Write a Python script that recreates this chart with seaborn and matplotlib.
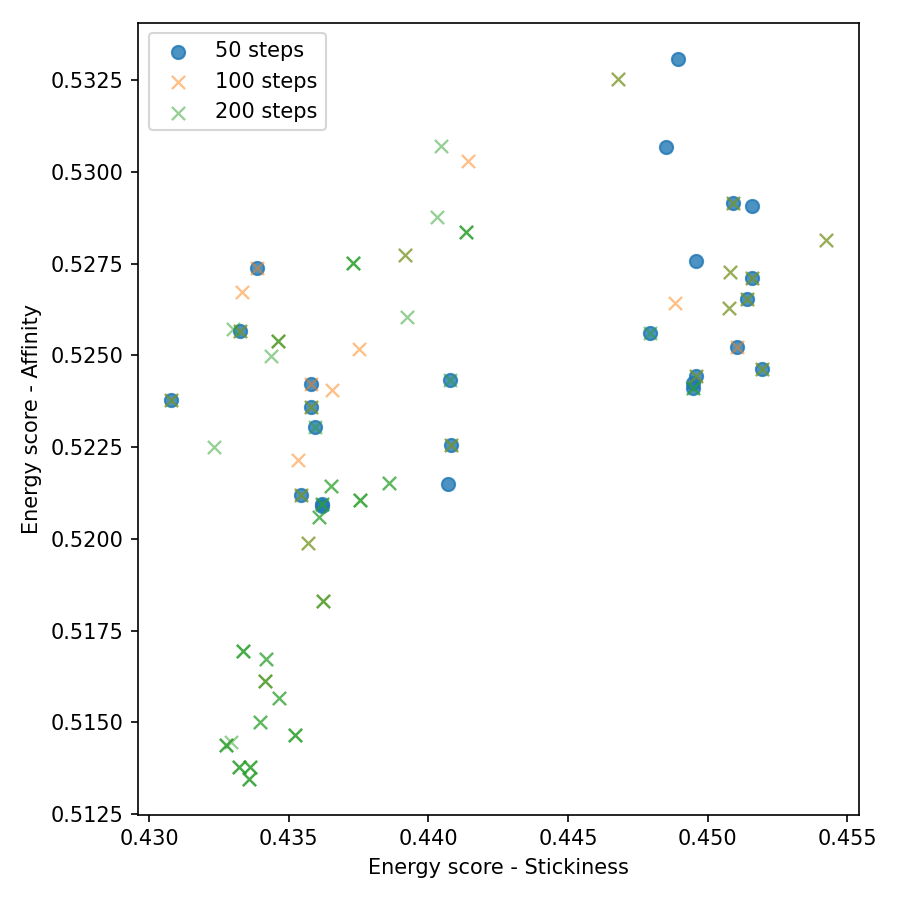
import matplotlib
matplotlib.use("Agg")
import matplotlib.pyplot as plt
import seaborn as sns

# 50 steps (repeated values are points that sit on top of each other)
stick_50 = [0.44893, 0.44852, 0.45091, 0.45157, 0.44960, 0.45160, 0.45140,
            0.44792, 0.45106, 0.45196, 0.44957, 0.44949, 0.44949, 0.44072,
            0.44076, 0.44083, 0.43385, 0.43325, 0.43079, 0.43581, 0.43579,
            0.43596, 0.43546, 0.43621, 0.43621]
affin_50 = [0.53309, 0.53067, 0.52916, 0.52906, 0.52756, 0.52710, 0.52653,
            0.52560, 0.52522, 0.52463, 0.52444, 0.52424, 0.52412, 0.52149,
            0.52433, 0.52255, 0.52738, 0.52566, 0.52378, 0.52422, 0.52360,
            0.52304, 0.52119, 0.52095, 0.52090]

# 100 steps
stick_100 = [0.44143, 0.43334, 0.43753, 0.43656, 0.43535, 0.44883,
             0.43385, 0.43581, 0.45106,
             0.43915, 0.43463, 0.43325, 0.43079, 0.43579, 0.44083, 0.43546,
             0.43570, 0.43624, 0.44679, 0.45424, 0.45080, 0.45160, 0.45077,
             0.45140, 0.45196, 0.44957, 0.43416, 0.45091]
affin_100 = [0.53030, 0.52673, 0.52517, 0.52406, 0.52215, 0.52642,
             0.52738, 0.52422, 0.52522,
             0.52773, 0.52540, 0.52566, 0.52378, 0.52360, 0.52255, 0.52119,
             0.51988, 0.51830, 0.53253, 0.52814, 0.52728, 0.52710, 0.52630,
             0.52653, 0.52463, 0.52444, 0.51613, 0.52916]

# 200 steps
stick_200 = [0.44044, 0.44032, 0.43924, 0.43302, 0.43438, 0.43234, 0.43295,
             0.43653, 0.43653, 0.43860, 0.43860, 0.43610, 0.43610,
             0.43338, 0.43338, 0.43338, 0.43420, 0.43420, 0.43399, 0.43399,
             0.43467, 0.43467,
             0.44136, 0.44136, 0.44136, 0.43731, 0.43731, 0.43731,
             0.43756, 0.43756, 0.43756, 0.43522, 0.43522, 0.43522,
             0.43274, 0.43274, 0.43274, 0.43321, 0.43321, 0.43321,
             0.43363, 0.43363, 0.43363, 0.43359, 0.43359, 0.43359,
             0.43915, 0.43463, 0.43463, 0.43325, 0.43079, 0.43579, 0.44083,
             0.43546, 0.43570, 0.43624, 0.43624, 0.44679, 0.45424, 0.45080,
             0.45160, 0.45077, 0.45140, 0.45196, 0.44957, 0.43416, 0.43416,
             0.45091,
             0.44792, 0.44949, 0.44949, 0.44076, 0.43596, 0.43621, 0.43621]
affin_200 = [0.53071, 0.52878, 0.52605, 0.52573, 0.52499, 0.52251, 0.51448,
             0.52145, 0.52145, 0.52153, 0.52153, 0.52059, 0.52059,
             0.51694, 0.51694, 0.51694, 0.51672, 0.51672, 0.51502, 0.51502,
             0.51567, 0.51567,
             0.52837, 0.52837, 0.52837, 0.52751, 0.52751, 0.52751,
             0.52106, 0.52106, 0.52106, 0.51465, 0.51465, 0.51465,
             0.51438, 0.51438, 0.51438, 0.51378, 0.51378, 0.51378,
             0.51378, 0.51378, 0.51378, 0.51347, 0.51347, 0.51347,
             0.52773, 0.52540, 0.52540, 0.52566, 0.52378, 0.52360, 0.52255,
             0.52119, 0.51988, 0.51830, 0.51830, 0.53253, 0.52814, 0.52728,
             0.52710, 0.52630, 0.52653, 0.52463, 0.52444, 0.51613, 0.51613,
             0.52916,
             0.52560, 0.52412, 0.52412, 0.52433, 0.52304, 0.52095, 0.52095]

fig, ax = plt.subplots(figsize=(6, 6), dpi=150)

sns.scatterplot(x=stick_50, y=affin_50, ax=ax, marker="o", s=40,
                color="C0", edgecolor="C0", linewidth=1.0, alpha=0.8,
                label="50 steps")
sns.scatterplot(x=stick_100, y=affin_100, ax=ax, marker="x", s=40,
                color="C1", linewidth=1.1, alpha=0.5, label="100 steps")
sns.scatterplot(x=stick_200, y=affin_200, ax=ax, marker="x", s=40,
                color="C2", linewidth=1.1, alpha=0.5, label="200 steps")

ax.set_xlabel("Energy score - Stickiness")
ax.set_ylabel("Energy score - Affinity")
ax.legend(loc="upper left")
plt.tight_layout()
plt.savefig("out.png", dpi=150)
